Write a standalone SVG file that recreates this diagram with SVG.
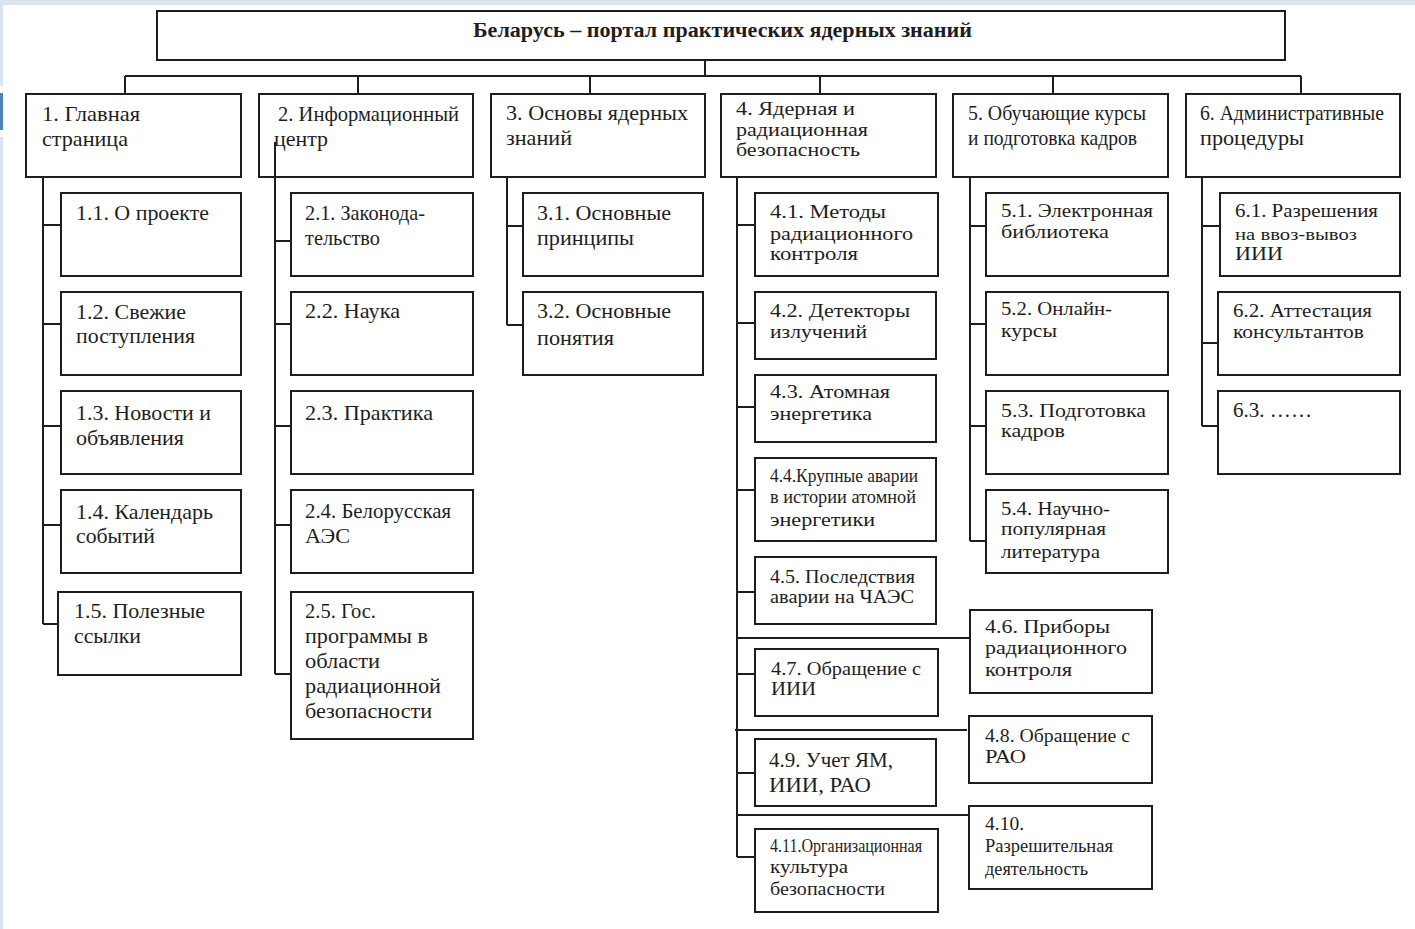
<svg xmlns="http://www.w3.org/2000/svg" width="1415" height="929" viewBox="0 0 1415 929">
<style>
.bg{fill:#ffffff}
.strip{fill:#dbe5f1}
.mark{fill:#4f81bd}
.box{fill:#ffffff;stroke:#1e1e1e;stroke-width:2}
.ln{fill:none;stroke:#1e1e1e;stroke-width:2}
.t{font-family:"Liberation Serif","Times New Roman",serif;font-size:21px;fill:#1e1e1e}
.c{font-size:18px}
.s{font-size:16px}
.title{font-family:"Liberation Serif","Times New Roman",serif;font-size:20px;font-weight:bold;fill:#1e1e1e}
</style>
<rect class="bg" x="0" y="0" width="1415" height="929"/>
<rect class="strip" x="0" y="0" width="1415" height="5"/>
<rect class="strip" x="0" y="0" width="3" height="86"/>
<rect class="strip" x="0" y="137" width="3" height="792"/>
<rect class="mark" x="0" y="93" width="3" height="37"/>

<g id="title">
<rect class="box" x="157" y="11" width="1128" height="49"/>
<text class="title" x="473" y="37" textLength="499" lengthAdjust="spacingAndGlyphs">Беларусь – портал практических ядерных знаний</text>
</g>

<g id="n1">
<rect class="box" x="26" y="94" width="215" height="83"/>
<text class="t" x="42" y="121" textLength="98" lengthAdjust="spacingAndGlyphs">1. Главная</text>
<text class="t" x="42" y="146" textLength="86" lengthAdjust="spacingAndGlyphs">страница</text>
</g>
<g id="n2">
<rect class="box" x="259" y="94" width="214" height="83"/>
<text class="t" x="278" y="121" textLength="181" lengthAdjust="spacingAndGlyphs">2. Информационный</text>
<text class="t" x="274" y="146" textLength="54" lengthAdjust="spacingAndGlyphs">центр</text>
</g>
<g id="n3">
<rect class="box" x="491" y="94" width="214" height="83"/>
<text class="t" x="506" y="120" textLength="182" lengthAdjust="spacingAndGlyphs">3. Основы ядерных</text>
<text class="t" x="506" y="145" textLength="66" lengthAdjust="spacingAndGlyphs">знаний</text>
</g>
<g id="n4">
<rect class="box" x="721" y="94" width="215" height="83"/>
<text class="t c" x="736" y="115" textLength="119" lengthAdjust="spacingAndGlyphs">4. Ядерная и</text>
<text class="t c" x="736" y="136" textLength="132" lengthAdjust="spacingAndGlyphs">радиационная</text>
<text class="t c" x="736" y="156" textLength="124" lengthAdjust="spacingAndGlyphs">безопасность</text>
</g>
<g id="n5">
<rect class="box" x="953" y="94" width="215" height="83"/>
<text class="t" x="968" y="120" textLength="178" lengthAdjust="spacingAndGlyphs">5. Обучающие курсы</text>
<text class="t" x="968" y="145" textLength="169" lengthAdjust="spacingAndGlyphs">и подготовка кадров</text>
</g>
<g id="n6">
<rect class="box" x="1186" y="94" width="214" height="83"/>
<text class="t" x="1200" y="120" textLength="184" lengthAdjust="spacingAndGlyphs">6. Административные</text>
<text class="t" x="1200" y="145" textLength="104" lengthAdjust="spacingAndGlyphs">процедуры</text>
</g>

<g id="n1_1">
<rect class="box" x="61" y="193" width="180" height="83"/>
<text class="t" x="76" y="220" textLength="133" lengthAdjust="spacingAndGlyphs">1.1. О проекте</text>
</g>
<g id="n1_2">
<rect class="box" x="61" y="292" width="180" height="83"/>
<text class="t" x="76" y="319" textLength="110" lengthAdjust="spacingAndGlyphs">1.2. Свежие</text>
<text class="t" x="76" y="343" textLength="119" lengthAdjust="spacingAndGlyphs">поступления</text>
</g>
<g id="n1_3">
<rect class="box" x="61" y="391" width="180" height="83"/>
<text class="t" x="76" y="420" textLength="135" lengthAdjust="spacingAndGlyphs">1.3. Новости и</text>
<text class="t" x="76" y="445" textLength="108" lengthAdjust="spacingAndGlyphs">объявления</text>
</g>
<g id="n1_4">
<rect class="box" x="61" y="490" width="180" height="83"/>
<text class="t" x="76" y="519" textLength="137" lengthAdjust="spacingAndGlyphs">1.4. Календарь</text>
<text class="t" x="76" y="543" textLength="79" lengthAdjust="spacingAndGlyphs">событий</text>
</g>
<g id="n1_5">
<rect class="box" x="58" y="592" width="183" height="83"/>
<text class="t" x="74" y="618" textLength="131" lengthAdjust="spacingAndGlyphs">1.5. Полезные</text>
<text class="t" x="74" y="643" textLength="67" lengthAdjust="spacingAndGlyphs">ссылки</text>
</g>

<g id="n2_1">
<rect class="box" x="291" y="193" width="182" height="83"/>
<text class="t" x="305" y="220" textLength="120" lengthAdjust="spacingAndGlyphs">2.1. Законода-</text>
<text class="t" x="305" y="245" textLength="75" lengthAdjust="spacingAndGlyphs">тельство</text>
</g>
<g id="n2_2">
<rect class="box" x="291" y="292" width="182" height="83"/>
<text class="t" x="305" y="318" textLength="95" lengthAdjust="spacingAndGlyphs">2.2. Наука</text>
</g>
<g id="n2_3">
<rect class="box" x="291" y="391" width="182" height="83"/>
<text class="t" x="305" y="420" textLength="128" lengthAdjust="spacingAndGlyphs">2.3. Практика</text>
</g>
<g id="n2_4">
<rect class="box" x="291" y="490" width="182" height="83"/>
<text class="t" x="305" y="518" textLength="146" lengthAdjust="spacingAndGlyphs">2.4. Белорусская</text>
<text class="t" x="305" y="543" textLength="45" lengthAdjust="spacingAndGlyphs">АЭС</text>
</g>
<g id="n2_5">
<rect class="box" x="291" y="592" width="182" height="147"/>
<text class="t" x="305" y="618" textLength="71" lengthAdjust="spacingAndGlyphs">2.5. Гос.</text>
<text class="t" x="305" y="643" textLength="123" lengthAdjust="spacingAndGlyphs">программы в</text>
<text class="t" x="305" y="668" textLength="75" lengthAdjust="spacingAndGlyphs">области</text>
<text class="t" x="305" y="693" textLength="136" lengthAdjust="spacingAndGlyphs">радиационной</text>
<text class="t" x="305" y="718" textLength="127" lengthAdjust="spacingAndGlyphs">безопасности</text>
</g>

<g id="n3_1">
<rect class="box" x="523" y="193" width="180" height="83"/>
<text class="t" x="537" y="220" textLength="134" lengthAdjust="spacingAndGlyphs">3.1. Основные</text>
<text class="t" x="537" y="245" textLength="97" lengthAdjust="spacingAndGlyphs">принципы</text>
</g>
<g id="n3_2">
<rect class="box" x="523" y="292" width="180" height="83"/>
<text class="t" x="537" y="318" textLength="134" lengthAdjust="spacingAndGlyphs">3.2. Основные</text>
<text class="t" x="537" y="345" textLength="77" lengthAdjust="spacingAndGlyphs">понятия</text>
</g>

<g id="n4_1">
<rect class="box" x="755" y="193" width="183" height="83"/>
<text class="t c" x="770" y="218" textLength="116" lengthAdjust="spacingAndGlyphs">4.1. Методы</text>
<text class="t c" x="770" y="240" textLength="143" lengthAdjust="spacingAndGlyphs">радиационного</text>
<text class="t c" x="770" y="260" textLength="88" lengthAdjust="spacingAndGlyphs">контроля</text>
</g>
<g id="n4_2">
<rect class="box" x="755" y="292" width="181" height="67"/>
<text class="t c" x="770" y="317" textLength="140" lengthAdjust="spacingAndGlyphs">4.2. Детекторы</text>
<text class="t c" x="770" y="338" textLength="97" lengthAdjust="spacingAndGlyphs">излучений</text>
</g>
<g id="n4_3">
<rect class="box" x="755" y="375" width="181" height="67"/>
<text class="t c" x="770" y="398" textLength="120" lengthAdjust="spacingAndGlyphs">4.3. Атомная</text>
<text class="t c" x="770" y="420" textLength="102" lengthAdjust="spacingAndGlyphs">энергетика</text>
</g>
<g id="n4_4">
<rect class="box" x="755" y="458" width="181" height="83"/>
<text class="t c" x="770" y="482" textLength="148" lengthAdjust="spacingAndGlyphs">4.4.Крупные аварии</text>
<text class="t c" x="770" y="503" textLength="146" lengthAdjust="spacingAndGlyphs">в истории атомной</text>
<text class="t c" x="770" y="526" textLength="105" lengthAdjust="spacingAndGlyphs">энергетики</text>
</g>
<g id="n4_5">
<rect class="box" x="755" y="557" width="181" height="67"/>
<text class="t c" x="770" y="583" textLength="145" lengthAdjust="spacingAndGlyphs">4.5. Последствия</text>
<text class="t c" x="770" y="603" textLength="144" lengthAdjust="spacingAndGlyphs">аварии на ЧАЭС</text>
</g>
<g id="n4_6">
<rect class="box" x="970" y="610" width="182" height="83"/>
<text class="t c" x="985" y="633" textLength="125" lengthAdjust="spacingAndGlyphs">4.6. Приборы</text>
<text class="t c" x="985" y="654" textLength="142" lengthAdjust="spacingAndGlyphs">радиационного</text>
<text class="t c" x="985" y="676" textLength="87" lengthAdjust="spacingAndGlyphs">контроля</text>
</g>
<g id="n4_7">
<rect class="box" x="755" y="649" width="183" height="67"/>
<text class="t c" x="771" y="675" textLength="150" lengthAdjust="spacingAndGlyphs">4.7. Обращение с</text>
<text class="t c" x="771" y="695" textLength="45" lengthAdjust="spacingAndGlyphs">ИИИ</text>
</g>
<g id="n4_8">
<rect class="box" x="969" y="716" width="183" height="67"/>
<text class="t c" x="985" y="742" textLength="145" lengthAdjust="spacingAndGlyphs">4.8. Обращение с</text>
<text class="t c" x="985" y="763" textLength="41" lengthAdjust="spacingAndGlyphs">РАО</text>
</g>
<g id="n4_9">
<rect class="box" x="755" y="739" width="181" height="67"/>
<text class="t" x="769" y="767" textLength="124" lengthAdjust="spacingAndGlyphs">4.9. Учет ЯМ,</text>
<text class="t" x="769" y="792" textLength="102" lengthAdjust="spacingAndGlyphs">ИИИ, РАО</text>
</g>
<g id="n4_10">
<rect class="box" x="969" y="806" width="183" height="83"/>
<text class="t c" x="985" y="830" textLength="39" lengthAdjust="spacingAndGlyphs">4.10.</text>
<text class="t c" x="985" y="852" textLength="128" lengthAdjust="spacingAndGlyphs">Разрешительная</text>
<text class="t c" x="985" y="875" textLength="103" lengthAdjust="spacingAndGlyphs">деятельность</text>
</g>
<g id="n4_11">
<rect class="box" x="755" y="829" width="183" height="83"/>
<text class="t c" x="770" y="852" textLength="152" lengthAdjust="spacingAndGlyphs">4.11.Организационная</text>
<text class="t c" x="770" y="873" textLength="78" lengthAdjust="spacingAndGlyphs">культура</text>
<text class="t c" x="770" y="895" textLength="115" lengthAdjust="spacingAndGlyphs">безопасности</text>
</g>

<g id="n5_1">
<rect class="box" x="986" y="193" width="182" height="83"/>
<text class="t c" x="1001" y="217" textLength="152" lengthAdjust="spacingAndGlyphs">5.1. Электронная</text>
<text class="t c" x="1001" y="238" textLength="108" lengthAdjust="spacingAndGlyphs">библиотека</text>
</g>
<g id="n5_2">
<rect class="box" x="986" y="292" width="182" height="83"/>
<text class="t c" x="1001" y="315" textLength="111" lengthAdjust="spacingAndGlyphs">5.2. Онлайн-</text>
<text class="t c" x="1001" y="337" textLength="56" lengthAdjust="spacingAndGlyphs">курсы</text>
</g>
<g id="n5_3">
<rect class="box" x="986" y="391" width="182" height="83"/>
<text class="t c" x="1001" y="417" textLength="145" lengthAdjust="spacingAndGlyphs">5.3. Подготовка</text>
<text class="t c" x="1001" y="437" textLength="64" lengthAdjust="spacingAndGlyphs">кадров</text>
</g>
<g id="n5_4">
<rect class="box" x="986" y="490" width="182" height="83"/>
<text class="t c" x="1001" y="515" textLength="109" lengthAdjust="spacingAndGlyphs">5.4. Научно-</text>
<text class="t c" x="1001" y="535" textLength="105" lengthAdjust="spacingAndGlyphs">популярная</text>
<text class="t c" x="1001" y="558" textLength="99" lengthAdjust="spacingAndGlyphs">литература</text>
</g>

<g id="n6_1">
<rect class="box" x="1220" y="193" width="180" height="83"/>
<text class="t c" x="1235" y="217" textLength="143" lengthAdjust="spacingAndGlyphs">6.1. Разрешения</text>
<text class="t s" x="1235" y="240" textLength="122" lengthAdjust="spacingAndGlyphs">на ввоз-вывоз</text>
<text class="t c" x="1235" y="260" textLength="48" lengthAdjust="spacingAndGlyphs">ИИИ</text>
</g>
<g id="n6_2">
<rect class="box" x="1218" y="292" width="182" height="83"/>
<text class="t c" x="1233" y="317" textLength="139" lengthAdjust="spacingAndGlyphs">6.2. Аттестация</text>
<text class="t c" x="1233" y="338" textLength="131" lengthAdjust="spacingAndGlyphs">консультантов</text>
</g>
<g id="n6_3">
<rect class="box" x="1218" y="391" width="182" height="83"/>
<text class="t" x="1233" y="417" textLength="79" lengthAdjust="spacingAndGlyphs">6.3. ……</text>
</g>

<g id="connectors">
<path class="ln" d="M705 60V76M125 76H1301M125 76V94M358 76V94M590 76V94M820 76V94M1053 76V94M1301 76V94"/>
<path class="ln" d="M43 177V624M43 225H61M43 324H61M43 426H61M43 525H61M43 624H58"/>
<path class="ln" d="M275 142V674M275 241H291M275 324H291M275 426H291M275 525H291M275 674H291"/>
<path class="ln" d="M507 177V325M507 226H523M507 325H523"/>
<path class="ln" d="M737 177V857M737 225H755M737 323H755M737 407H755M737 490H755M737 592H755M737 638H970M737 674H755M735 730H967M737 773H755M737 815H969M737 857H755"/>
<path class="ln" d="M970 177V541M970 226H986M970 324H986M970 426H986M970 541H986"/>
<path class="ln" d="M1202 177V426M1202 226H1220M1202 343H1218M1202 426H1218"/>
</g>
</svg>
